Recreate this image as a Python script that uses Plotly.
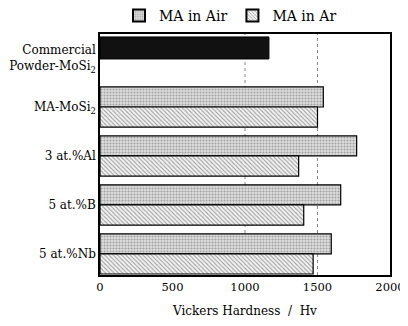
import plotly.graph_objects as go

categories = ["Commercial<br>Powder-MoSi<sub>2</sub>", "MA-MoSi<sub>2</sub>", "3 at.%Al", "5 at.%B", "5 at.%Nb"]
commercial_value = [1165, None, None, None, None]
air_values = [None, 1540, 1770, 1660, 1595]
ar_values = [None, 1500, 1370, 1405, 1470]
x_ticks = [0, 500, 1000, 1500, 2000]
grid_lines = [1000, 1500]

FAM = "DejaVu Serif"
font = dict(family=FAM, size=12, color="black")

fig = go.Figure()
fig.add_trace(go.Bar(
    y=categories, x=air_values, orientation="h", name="MA in Air",
    offsetgroup="air",
    marker=dict(color="#cfcfcf", line=dict(color="black", width=1.2),
                pattern=dict(shape=".", fgcolor="#666666", bgcolor="#dedede", size=3, solidity=0.4)),
))
fig.add_trace(go.Bar(
    y=categories, x=ar_values, orientation="h", name="MA in Ar",
    offsetgroup="ar",
    marker=dict(color="white", line=dict(color="black", width=1.2),
                pattern=dict(shape="\\", fgcolor="#444444", bgcolor="#f4f4f4", size=3, solidity=0.35)),
))
fig.add_trace(go.Bar(
    y=categories, x=commercial_value, orientation="h", name="Commercial",
    offsetgroup="air", showlegend=False, width=0.45,
    marker=dict(color="#111111", line=dict(color="black", width=1)),
))

for g in grid_lines:
    fig.add_shape(type="line", xref="x", yref="paper", x0=g, x1=g, y0=0, y1=1,
                  line=dict(color="#888888", width=1, dash="dot"), layer="below")

fig.update_layout(
    width=400, height=318,
    margin=dict(l=92, r=18, t=26, b=51),
    paper_bgcolor="white", plot_bgcolor="white",
    barmode="group", bargap=0.18, bargroupgap=0,
    font=font,
    showlegend=True,
    legend=dict(orientation="h", x=0.45, xanchor="center",
                yref="container", y=0.975, yanchor="middle",
                font=dict(family=FAM, size=14, color="black"),
                traceorder="normal", itemsizing="constant"),
    xaxis=dict(range=[0, 2000], tickvals=x_ticks, showgrid=False, zeroline=False,
               showline=True, linecolor="black", linewidth=1.5, mirror=True,
               ticks="", tickfont=dict(family=FAM, size=11.5, color="black"),
               ticklabeloverflow="allow", automargin=False,
               title=dict(text="Vickers Hardness  /  Hv", font=dict(family=FAM, size=12, color="black"), standoff=14)),
    yaxis=dict(categoryorder="array", categoryarray=categories,
               range=[4.43, -0.49], showgrid=False, zeroline=False,
               showline=True, linecolor="black", linewidth=1.5, mirror=True,
               ticks="", automargin=False, ticklabeloverflow="allow",
               tickfont=dict(family=FAM, size=12, color="black")),
)

fig.write_html("out.html")
